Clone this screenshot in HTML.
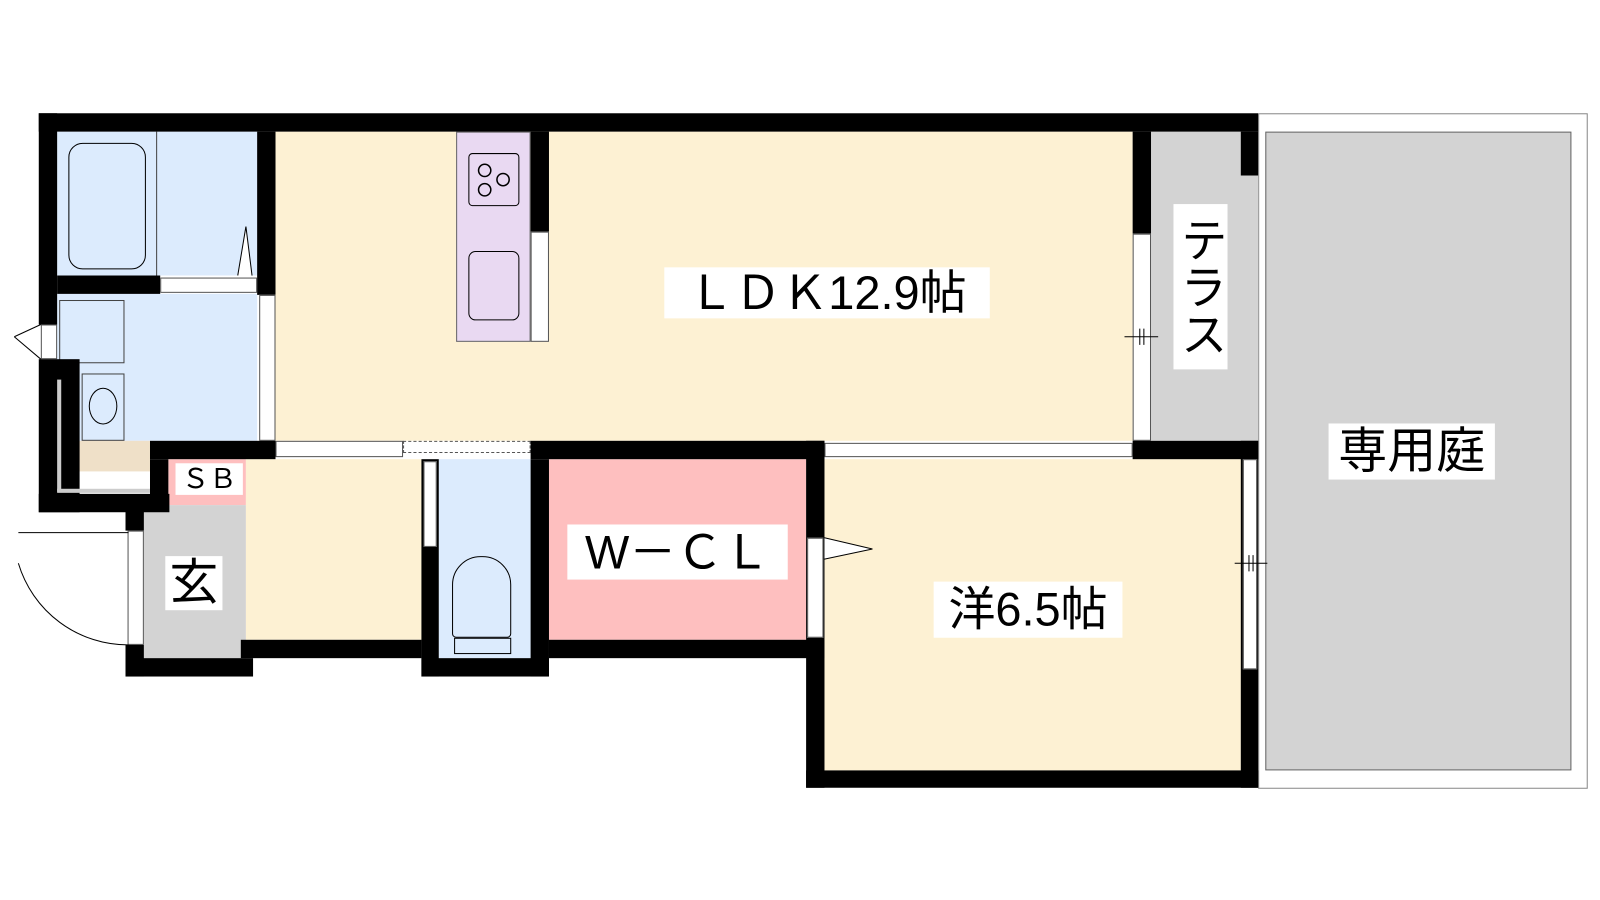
<!DOCTYPE html>
<html><head><meta charset="utf-8"><style>
html,body{margin:0;padding:0;background:#fff;width:1600px;height:900px;overflow:hidden}
#w{position:absolute;left:0;top:0;width:1568px;height:882px;transform:scale(1.0204);transform-origin:0 0}
#w div{position:absolute;box-sizing:border-box}
.k{background:#000}
.b{background:#dcebfd}
.y{background:#fdf1d3}
.g{background:#d3d3d3}
.p{background:#febfbf}
.wd{background:#fff;border:1px solid #555}
.t{background:#fff;font-family:"Liberation Sans","Noto Sans CJK JP",sans-serif;color:#000;text-align:center;white-space:nowrap}
</style></head><body><div id="w">
<div style="left:1233px;top:111px;width:323px;height:662px;border:1px solid #888;background:#fff"></div>
<div class="g" style="left:1240px;top:129px;width:300px;height:626px;border:1px solid #666"></div>
<div class="b" style="left:56px;top:129px;width:196px;height:141px"></div>
<div class="b" style="left:56px;top:288px;width:196px;height:144px"></div>
<div class="y" style="left:270px;top:129px;width:840px;height:303px"></div>
<div style="left:447px;top:129px;width:73px;height:206px;background:#e9d9f2;border:1px solid #666"></div>
<div class="g" style="left:1128px;top:129px;width:105px;height:303px"></div>
<div class="p" style="left:165px;top:450px;width:76px;height:45px"></div>
<div class="g" style="left:141px;top:495px;width:100px;height:150px"></div>
<div class="y" style="left:241px;top:450px;width:172px;height:177px"></div>
<div class="b" style="left:430px;top:450px;width:90px;height:195px"></div>
<div class="p" style="left:538px;top:450px;width:252px;height:177px"></div>
<div class="y" style="left:808px;top:450px;width:408px;height:305px"></div>
<div style="left:76px;top:432px;width:71px;height:30px;background:#efe0c8"></div>
<div style="left:67px;top:140px;width:76px;height:124px;border:1.5px solid #000;border-radius:14px"></div>
<div style="left:153px;top:129px;width:1px;height:141px;background:#444"></div>
<div style="left:58px;top:294px;width:64px;height:62px;border:1px solid #444"></div>
<div style="left:80px;top:366px;width:42px;height:66px;border:1px solid #444"></div>
<div style="left:87px;top:380px;width:28px;height:36px;border:1.5px solid #000;border-radius:50%"></div>
<div style="left:459px;top:150px;width:50px;height:52px;border:1.5px solid #000;border-radius:4px"></div>
<div style="left:459px;top:246px;width:50px;height:68px;border:1.5px solid #000;border-radius:7px"></div>
<div style="left:443px;top:545px;width:58px;height:80px;border:1.5px solid #000;border-radius:28px 28px 4px 4px"></div>
<div style="left:445px;top:625px;width:56px;height:16px;border:1.5px solid #000"></div>
<div class="k" style="left:38px;top:111px;width:1195px;height:18px"></div>
<div class="k" style="left:38px;top:111px;width:18px;height:207px"></div>
<div class="wd" style="left:40px;top:318px;width:16px;height:34px"></div>
<div class="k" style="left:38px;top:352px;width:40px;height:150px"></div>
<div style="left:56px;top:372px;width:4px;height:110px;background:#ccc"></div>
<div style="left:56px;top:479px;width:92px;height:4px;background:#ccc"></div>
<div class="k" style="left:38px;top:484px;width:128px;height:18px"></div>
<div class="k" style="left:56px;top:270px;width:101px;height:18px"></div>
<div class="wd" style="left:157px;top:272px;width:95px;height:15px"></div>
<div class="k" style="left:252px;top:129px;width:18px;height:160px"></div>
<div class="wd" style="left:254px;top:289px;width:16px;height:143px"></div>
<div class="k" style="left:520px;top:129px;width:18px;height:98px"></div>
<div class="wd" style="left:520px;top:227px;width:18px;height:108px"></div>
<div class="k" style="left:1110px;top:129px;width:18px;height:100px"></div>
<div class="wd" style="left:1110px;top:229px;width:18px;height:203px"></div>
<div class="k" style="left:1216px;top:129px;width:17px;height:43px"></div>
<div class="k" style="left:147px;top:432px;width:123px;height:18px"></div>
<div class="wd" style="left:270px;top:432px;width:125px;height:16px"></div>
<div class="wd" style="left:395px;top:432px;width:125px;height:12px;border-style:dashed"></div>
<div class="k" style="left:520px;top:432px;width:288px;height:18px"></div>
<div class="wd" style="left:808px;top:434px;width:302px;height:14px"></div>
<div class="k" style="left:1110px;top:432px;width:123px;height:18px"></div>
<div class="k" style="left:147px;top:450px;width:18px;height:45px"></div>
<div class="k" style="left:123px;top:495px;width:18px;height:25px"></div>
<div class="wd" style="left:125px;top:520px;width:16px;height:112px"></div>
<div class="k" style="left:123px;top:632px;width:18px;height:31px"></div>
<div class="k" style="left:123px;top:645px;width:125px;height:18px"></div>
<div class="k" style="left:236px;top:627px;width:177px;height:18px"></div>
<div class="k" style="left:413px;top:450px;width:17px;height:213px"></div>
<div class="wd" style="left:415px;top:452px;width:13px;height:84px"></div>
<div class="k" style="left:413px;top:645px;width:125px;height:18px"></div>
<div class="k" style="left:520px;top:450px;width:18px;height:213px"></div>
<div class="k" style="left:538px;top:627px;width:270px;height:18px"></div>
<div class="k" style="left:790px;top:432px;width:18px;height:340px"></div>
<div class="wd" style="left:791px;top:527px;width:16px;height:98px"></div>
<div class="k" style="left:790px;top:755px;width:443px;height:17px"></div>
<div class="k" style="left:1216px;top:432px;width:17px;height:340px"></div>
<div class="wd" style="left:1218px;top:450px;width:14px;height:206px"></div>
<svg style="position:absolute;left:0;top:0" width="1568" height="882">
<path d="M18 552 A112 112 0 0 0 126 632" fill="none" stroke="#000"/>
<path d="M18 522 L126 522" stroke="#000"/>
<path d="M14 330 L40 318 M14 330 L40 352" stroke="#000" fill="none"/>
<path d="M808 527 L855 538 L808 548" fill="#fff" stroke="#000"/>
<path d="M233 270 L241 222 L247 270" fill="#fff" stroke="#000"/>
<g fill="none" stroke="#000" stroke-width="1.5"><circle cx="475" cy="167" r="6"/><circle cx="493" cy="176" r="6"/><circle cx="475" cy="186" r="6"/></g>
<path d="M1102 330 H1135 M1117 322 V338 M1121 322 V338 M1210 552 H1242 M1224 544 V560 M1228 544 V560" stroke="#000"/>
</svg>
<div class="t" style="left:651px;top:262px;width:319px;height:50px;font-size:46px;line-height:50px">ＬＤＫ12.9帖</div>
<div class="t" style="left:1150px;top:200px;width:53px;height:162px;font-size:46px;line-height:53px;writing-mode:vertical-rl">テラス</div>
<div class="t" style="left:1302px;top:415px;width:163px;height:55px;font-size:48px;line-height:55px">専用庭</div>
<div class="t" style="left:915px;top:570px;width:185px;height:55px;font-size:46px;line-height:55px">洋6.5帖</div>
<div class="t" style="left:556px;top:514px;width:216px;height:54px;font-size:46px;line-height:54px">W－ＣＬ</div>
<div class="t" style="left:172px;top:454px;width:66px;height:31px;font-size:27px;line-height:31px">ＳＢ</div>
<div class="t" style="left:162px;top:545px;width:56px;height:53px;font-size:48px;line-height:53px">玄</div>
</div></body></html>
